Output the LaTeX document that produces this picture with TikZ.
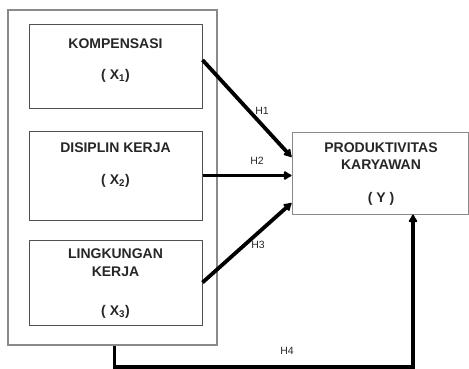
\documentclass[tikz,border=0pt]{standalone}
\usepackage{fontspec}
\setmainfont{Liberation Sans}
\usetikzlibrary{arrows.meta}
\definecolor{frame-gray}{HTML}{8A8A8A}
\definecolor{box-gray}{HTML}{505050}
\definecolor{ink}{HTML}{262626}
\tikzset{
    outer-box/.style = {draw=frame-gray, line width=1.5pt, rectangle, inner sep=0pt},
    var-box/.style = {draw=box-gray, line width=1pt, rectangle, inner sep=0pt, minimum width=173pt},
    var-text/.style = {text=ink, font=\bfseries\fontsize{14}{16}\selectfont, align=center, inner sep=0pt},
    hyp-label/.style = {text=ink, font=\fontsize{10.5}{12}\selectfont, inner sep=0pt},
    path-arrow/.style = {line width=3.8pt, -{Latex[length=9pt,width=11pt,round]}},
}

\begin{document}
\begin{tikzpicture}[x=1pt, y=-1pt]
\useasboundingbox (0,0) rectangle (469,369);

% independent variables
\node [outer-box, minimum width=209pt, minimum height=335pt] (outer) at (112.5,177.5) {};
\node [var-box, minimum height=84pt] (box1) at (115.5,67) {};
\node [var-box, minimum height=89pt] (box2) at (115.5,175.5) {};
\node [var-box, minimum height=85pt] (box3) at (115.5,282.5) {};

\node [var-text] (x1-name) at (115.5,44) {KOMPENSASI};
\node [var-text] (x1-sym) at (115.5,76) {( X\textsubscript{1})};
\node [var-text] (x2-name) at (115.5,148) {DISIPLIN KERJA};
\node [var-text] (x2-sym) at (115.5,181) {( X\textsubscript{2})};
\node [var-text] (x3-name) at (115.5,263) {LINGKUNGAN\\[2pt] KERJA};
\node [var-text] (x3-sym) at (115.5,312) {( X\textsubscript{3})};

% dependent variable
\node [outer-box, line width=1pt, minimum width=176pt, minimum height=82pt] (ybox) at (380,173) {};
\node [var-text] (y-name) at (381,156) {PRODUKTIVITAS\\[1pt] KARYAWAN};
\node [var-text] (y-sym) at (381,199) {( Y )};

% hypotheses
\draw [path-arrow] ([yshift=7pt]box1.east) -- ([yshift=16pt]ybox.west);
\draw [path-arrow] (box2.east) -- (box2.east -| ybox.west);
\draw [path-arrow] (box3.east) -- ([yshift=-30pt]ybox.west);
\draw [path-arrow] ([xshift=2pt]outer.south) -- ++(0,21) -| ([xshift=33pt]ybox.south);

\node [hyp-label] (h1) at (262,111) {H1};
\node [hyp-label] (h2) at (257,161) {H2};
\node [hyp-label] (h3) at (258,245) {H3};
\node [hyp-label] (h4) at (287,351) {H4};
\end{tikzpicture}
\end{document}
